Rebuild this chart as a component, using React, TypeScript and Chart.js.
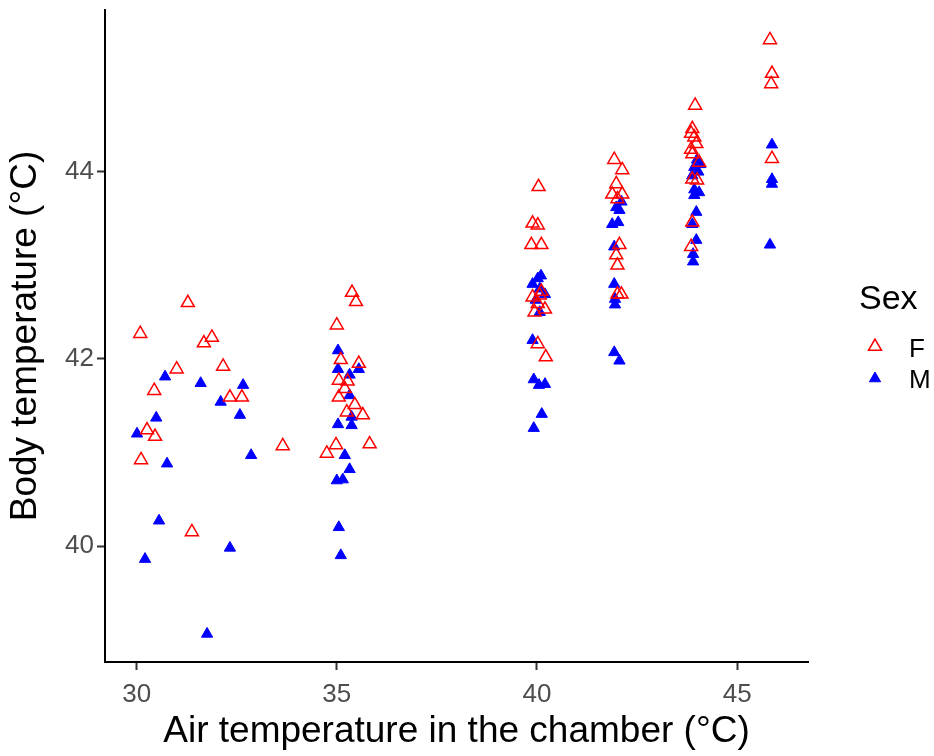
import React, { useEffect, useRef } from "react";
import { Chart, registerables } from "chart.js";

Chart.register(...registerables);

// ---- Data ----
const femaleAirTemp = [
  30.09, 30.26, 30.44, 30.46, 30.11, 31.0, 31.28, 31.38, 31.68, 31.88, 32.16, 32.33, 32.63, 33.65,
  35.38, 35.48, 35.0, 35.1, 35.55, 35.05, 35.27, 35.2, 35.05, 35.45, 35.25, 35.65, 35.82, 34.98, 34.75,
  40.04, 39.89, 40.02, 39.86, 40.11, 40.11, 39.89, 40.02, 40.2, 39.94, 40.07, 40.02, 40.22,
  41.93, 42.13, 41.98, 41.88, 42.13, 42.01, 42.06, 41.98, 42.01, 42.01, 42.11,
  43.95, 43.88, 43.85, 43.93, 43.98, 43.85, 43.88, 44.05, 43.88, 44.0, 43.88, 43.85,
  45.82, 45.87, 45.85, 45.87,
];
const femaleBodyTemp = [
  42.27, 41.24, 41.66, 41.17, 40.92, 41.89, 42.6, 40.15, 42.17, 42.23, 41.92, 41.59, 41.59, 41.07,
  42.71, 42.61, 42.36, 41.99, 41.95, 41.77, 41.76, 41.68, 41.59, 41.51, 41.43, 41.4, 41.09, 41.08, 40.99,
  43.84, 43.45, 43.43, 43.22, 43.22, 42.72, 42.66, 42.59, 42.53, 42.5, 42.68, 42.16, 42.02,
  44.13, 44.02, 43.87, 43.76, 43.76, 43.71, 43.22, 43.11, 43.0, 42.69, 42.69,
  44.71, 44.46, 44.41, 44.37, 44.3, 44.24, 44.19, 44.1, 43.92, 43.91, 43.46, 43.2,
  45.41, 45.05, 44.94, 44.14,
];
const maleAirTemp = [
  30.01, 30.21, 30.49, 30.56, 30.71, 30.76, 31.6, 31.76, 32.1, 32.33, 32.58, 32.66, 32.86,
  35.03, 35.03, 35.55, 35.32, 35.32, 35.37, 35.03, 35.37, 35.2, 35.32, 35.0, 35.15, 35.05, 35.1,
  40.02, 40.1, 39.89, 40.07, 40.2, 39.97, 40.07, 39.89, 39.92, 40.05, 40.2, 40.12, 39.92,
  41.98, 42.06, 42.11, 41.88, 42.03, 41.93, 41.93, 41.95, 41.95, 41.93, 42.06,
  44.0, 44.08, 43.93, 44.03, 43.88, 43.93, 43.93, 44.05, 43.98, 43.88, 43.98, 43.9, 43.9,
  45.87, 45.87, 45.87, 45.82,
];
const maleBodyTemp = [
  41.2, 39.86, 41.37, 40.27, 41.81, 40.88, 41.74, 39.06, 41.54, 39.98, 41.4, 41.72, 40.97,
  42.09, 41.89, 41.89, 41.83, 41.61, 41.38, 41.3, 41.29, 40.97, 40.82, 40.7, 40.71, 40.2, 39.9,
  42.86, 42.89, 42.8, 42.75, 42.69, 42.63, 42.5, 42.2, 41.78, 41.72, 41.73, 41.41, 41.26,
  43.62, 43.59, 43.68, 43.44, 43.46, 43.2, 42.8, 42.64, 42.58, 42.07, 41.98,
  44.13, 44.08, 44.05, 44.0, 43.96, 43.81, 43.75, 43.78, 43.57, 43.44, 43.27, 43.12, 43.04,
  44.29, 43.92, 43.87, 43.22,
];

const xTickValues = [30, 35, 40, 45];
const yTickValues = [40, 42, 44];
const seriesLabels = ["F", "M"];
const xAxisTitle = "Air temperature in the chamber (°C)";
const yAxisTitle = "Body temperature (°C)";
const legendTitle = "Sex";

const FONT = "'Liberation Sans', Arial, Helvetica, sans-serif";
const RED = "#FF0000";
const BLUE = "#0000FF";

function tri(ctx: CanvasRenderingContext2D, x: number, y: number, r: number) {
  const a = (2 * Math.PI) / 3;
  ctx.beginPath();
  for (let i = 0; i < 3; i++) {
    const px = x + Math.sin(i * a) * r;
    const py = y - Math.cos(i * a) * r;
    if (i === 0) ctx.moveTo(px, py);
    else ctx.lineTo(px, py);
  }
  ctx.closePath();
}

const legendPlugin = {
  id: "ggLegend",
  afterDraw(chart: any) {
    const ctx: CanvasRenderingContext2D = chart.ctx;
    ctx.save();
    ctx.fillStyle = "#000000";
    ctx.textAlign = "left";
    ctx.textBaseline = "alphabetic";
    ctx.font = `34px ${FONT}`;
    ctx.fillText(legendTitle, 859, 309);

    // F key
    tri(ctx, 875, 346.5, 7.5);
    ctx.lineWidth = 1.5;
    ctx.strokeStyle = RED;
    ctx.stroke();
    // M key
    tri(ctx, 875, 378.5, 6.5);
    ctx.fillStyle = BLUE;
    ctx.fill();
    ctx.lineWidth = 1;
    ctx.strokeStyle = BLUE;
    ctx.stroke();

    ctx.fillStyle = "#000000";
    ctx.font = `26px ${FONT}`;
    ctx.fillText(seriesLabels[0], 909, 357);
    ctx.fillText(seriesLabels[1], 909, 388);
    ctx.restore();
  },
};

export default function App() {
  const canvasRef = useRef<HTMLCanvasElement | null>(null);

  useEffect(() => {
    document.body.style.margin = "0";
    const canvas = canvasRef.current;
    if (!canvas) return;

    const fData = femaleAirTemp.map((x, i) => ({ x, y: femaleBodyTemp[i] }));
    const mData = maleAirTemp.map((x, i) => ({ x, y: maleBodyTemp[i] }));

    const chart = new Chart(canvas, {
      type: "scatter",
      data: {
        datasets: [
          {
            label: seriesLabels[0],
            data: fData,
            pointStyle: "triangle",
            pointRadius: 7.5,
            pointBorderWidth: 1.5,
            pointBorderColor: RED,
            pointBackgroundColor: "rgba(0,0,0,0)",
            borderColor: RED,
            backgroundColor: "rgba(0,0,0,0)",
          },
          {
            label: seriesLabels[1],
            data: mData,
            pointStyle: "triangle",
            pointRadius: 6.5,
            pointBorderWidth: 1,
            pointBorderColor: BLUE,
            pointBackgroundColor: BLUE,
            borderColor: BLUE,
            backgroundColor: BLUE,
          },
        ],
      },
      options: {
        responsive: false,
        animation: false,
        events: [],
        layout: { padding: { top: 10, right: 126, left: 0, bottom: 0 } },
        plugins: {
          legend: { display: false },
          tooltip: { enabled: false },
        },
        scales: {
          x: {
            type: "linear",
            min: 29.21,
            max: 46.77,
            afterBuildTicks: (s: any) => {
              s.ticks = xTickValues.map((v) => ({ value: v }));
            },
            afterFit: (s: any) => {
              s.height = 94;
              s.paddingLeft = 0;
              s.paddingRight = 0;
            },
            ticks: {
              autoSkip: false,
              maxRotation: 0,
              padding: 9,
              color: "#4D4D4D",
              font: { family: FONT, size: 26 },
            },
            grid: {
              display: true,
              drawOnChartArea: false,
              drawTicks: true,
              tickLength: 8,
              tickColor: "#333333",
              tickWidth: 2,
              color: "#333333",
            },
            border: { display: true, color: "#000000", width: 2 },
            title: {
              display: true,
              text: xAxisTitle,
              color: "#000000",
              font: { family: FONT, size: 37 },
              padding: { top: 0, bottom: 2 },
            },
          },
          y: {
            type: "linear",
            min: 38.76,
            max: 45.73,
            afterBuildTicks: (s: any) => {
              s.ticks = yTickValues.map((v) => ({ value: v }));
            },
            afterFit: (s: any) => {
              s.width = 105;
              s.paddingTop = 0;
              s.paddingBottom = 0;
            },
            ticks: {
              autoSkip: false,
              padding: 3,
              color: "#4D4D4D",
              font: { family: FONT, size: 26 },
            },
            grid: {
              display: true,
              drawOnChartArea: false,
              drawTicks: true,
              tickLength: 8,
              tickColor: "#333333",
              tickWidth: 2,
              color: "#333333",
            },
            border: { display: true, color: "#000000", width: 2 },
            title: {
              display: true,
              text: yAxisTitle,
              color: "#000000",
              font: { family: FONT, size: 37 },
              padding: { top: 4, bottom: 0 },
            },
          },
        },
      },
      plugins: [legendPlugin],
    } as any);

    return () => {
      chart.destroy();
    };
  }, []);

  return <canvas ref={canvasRef} width={934} height={756} style={{ display: "block" }} />;
}
